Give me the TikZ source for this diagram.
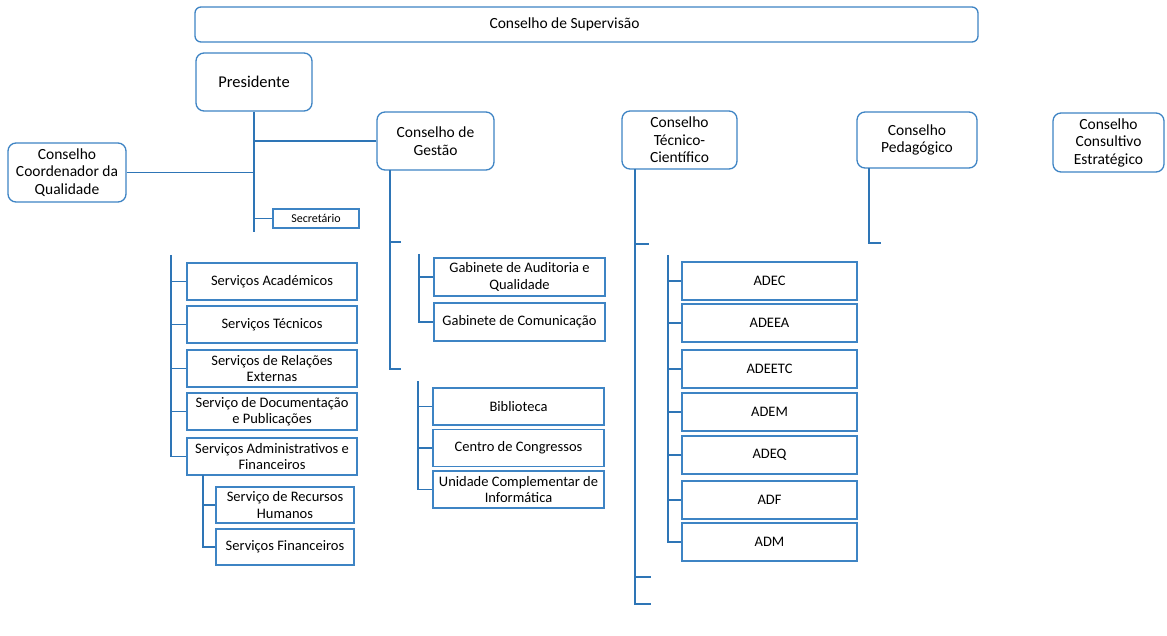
\documentclass[tikz,border=0pt]{standalone}
\usepackage{fontspec}
\setmainfont{Carlito}
\definecolor{orgblue}{RGB}{46,117,182}
\definecolor{boxblue}{RGB}{62,132,196}
\tikzset{
  council/.style={draw=boxblue, line width=1.3pt, rounded corners=8pt, fill=white, align=center, inner sep=0pt, font=\fontsize{15.5}{17.5}\selectfont},
  unit/.style={draw=boxblue, line width=1.3pt, fill=white, align=center, inner sep=0pt, minimum height=37pt, font=\fontsize{14.5}{16.5}\selectfont},
  link/.style={draw=orgblue, line width=1.6pt},
}
\begin{document}
\begin{tikzpicture}[x=1pt, y=-1pt]
  \useasboundingbox (0,0) rectangle (1167,636);
  % councils
  \node[council, minimum width=783pt, minimum height=35pt, rounded corners=6pt] (sup) at (586.5,24.5) {Conselho de Supervisão\hspace*{44pt}};
  \node[council, minimum width=116pt, minimum height=58pt, font=\fontsize{16.5}{18}\selectfont] (pres) at (254,82) {Presidente};
  \node[council, minimum width=118pt, minimum height=59pt] (ccq) at (67,172.5) {Conselho\\Coordenador da\\Qualidade};
  \node[council, minimum width=117pt, minimum height=58pt] (cg) at (435.5,141) {Conselho de\\Gestão};
  \node[council, minimum width=115pt, minimum height=58pt] (ctc) at (679.5,140) {Conselho\\Técnico-\\Científico};
  \node[council, minimum width=120pt, minimum height=56pt] (cp) at (917,140) {Conselho\\Pedagógico};
  \node[council, minimum width=111pt, minimum height=59pt] (cce) at (1108.5,142.5) {Conselho\\Consultivo\\Estratégico};
  \node[unit, minimum width=86pt, minimum height=19pt, font=\fontsize{12}{13}\selectfont] (sec) at (316,218.5) {Secretário};

  % units
  \foreach \name/\ypos/\txt in {sa/281.5/Serviços Académicos, st/324.5/Serviços Técnicos,
      sre/368.5/Serviços de Relações\\Externas, sdp/411.5/Serviço de Documentação\\e Publicações,
      saf/456.5/Serviços Administrativos e\\Financeiros}
    \node[unit, minimum width=170pt] (\name) at (272,\ypos) {\txt};
  \foreach \name/\ypos/\txt in {srh/505/Serviço de Recursos\\Humanos, sf/547/Serviços Financeiros}
    \node[unit, minimum width=138pt, minimum height=36pt] (\name) at (285,\ypos) {\txt};
  \foreach \name/\ypos/\txt in {gaq/277/Gabinete de Auditoria e\\Qualidade, gc/322/Gabinete de Comunicação}
    \node[unit, minimum width=171pt, minimum height=38pt] (\name) at (519.5,\ypos) {\txt};
  \foreach \name/\ypos/\txt in {bib/406.5/Biblioteca, cc/448/Centro de Congressos,
      uci/489.5/Unidade Complementar de\\Informática}
    \node[unit, minimum width=171pt] (\name) at (518.5,\ypos) {\txt};
  \foreach \name/\ypos in {ADEC/281, ADEEA/323, ADEETC/369, ADEM/412, ADEQ/455, ADF/500, ADM/542}
    \node[unit, minimum width=175pt, minimum height=38pt] (\name) at (769.5,\ypos) {\name};

  % connectors
  \coordinate (ptrunk) at (254,232);
  \draw[link] (pres.south) -- (ptrunk);
  \draw[link] (cg.west) -- (cg.west -| ptrunk);
  \draw[link] (ccq.east) -- (ccq.east -| ptrunk);
  \draw[link] (sec.west) -- (sec.west -| ptrunk);

  \coordinate (lspine) at (171,255);
  \draw[link] (lspine) |- (saf.west);
  \foreach \name in {sa,st,sre,sdp} \draw[link] (\name.west) -- (\name.west -| lspine);
  \coordinate (sspine) at (203,475);
  \draw[link] (sspine) |- (sf.west);
  \draw[link] (srh.west) -- (srh.west -| sspine);

  \coordinate (cgtop) at (390,170);
  \coordinate (cgtick) at (401,242);
  \coordinate (cgend) at (401,369);
  \draw[link] (cgtop) |- (cgend);
  \draw[link] (cgtick) -- (cgtick -| cgtop);
  \coordinate (gspine) at (419,254);
  \draw[link] (gspine) |- (gc.west);
  \draw[link] (gaq.west) -- (gaq.west -| gspine);
  \coordinate (bspine) at (418,381);
  \draw[link] (bspine) |- (uci.west);
  \foreach \name in {bib,cc} \draw[link] (\name.west) -- (\name.west -| bspine);

  \coordinate (ctctop) at (635,169);
  \coordinate (ctcend) at (651,604);
  \draw[link] (ctctop) |- (ctcend);
  \foreach \ypos/\xend in {244/649, 577/651}
    \draw[link] (635,\ypos) -- (\xend,\ypos);
  \coordinate (aspine) at (668,255);
  \draw[link] (aspine) |- (ADM.west);
  \foreach \name in {ADEC,ADEEA,ADEETC,ADEM,ADEQ,ADF} \draw[link] (\name.west) -- (\name.west -| aspine);

  \coordinate (cptop) at (869,168);
  \coordinate (cpend) at (881,243);
  \draw[link] (cptop) |- (cpend);
\end{tikzpicture}
\end{document}
